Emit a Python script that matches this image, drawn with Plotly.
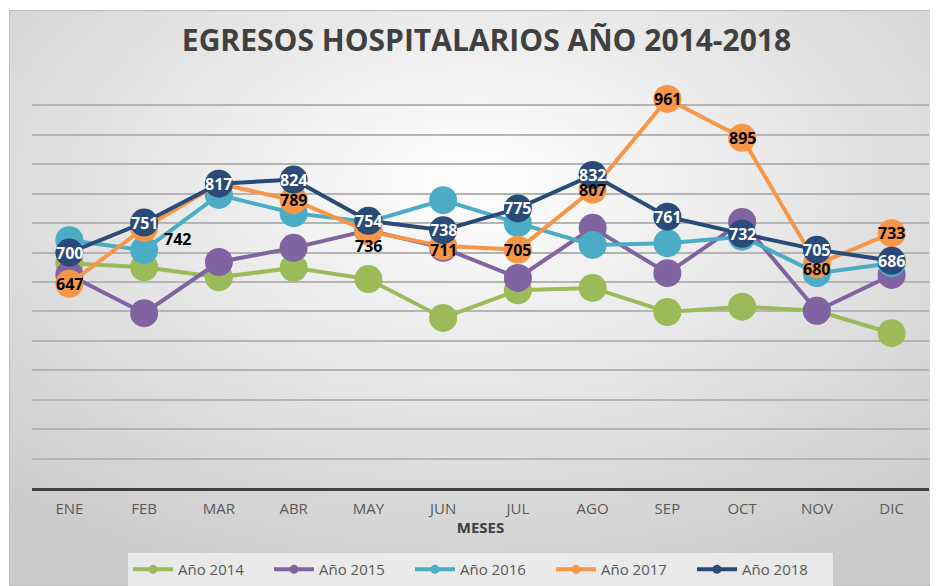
import base64
import plotly.graph_objects as go

meses = ["ENE", "FEB", "MAR", "ABR", "MAY", "JUN", "JUL", "AGO", "SEP", "OCT", "NOV", "DIC"]
y2014 = [682, 675, 658, 674, 655, 589, 636, 640, 599, 608, 601, 563]
y2015 = [662, 597, 684, 708, 738, 708, 657, 742, 665, 752, 601, 662]
y2016 = [721, 704, 798, 767, 752, 789, 750, 713, 716, 727, 665, 682]
y2017 = [647, 742, 817, 789, 736, 711, 705, 807, 961, 895, 680, 733]
y2018 = [700, 751, 817, 824, 754, 738, 775, 832, 761, 732, 705, 686]

names = ["Año 2014", "Año 2015", "Año 2016", "Año 2017", "Año 2018"]
colors = ["#9BBB59", "#8064A2", "#4BACC6", "#F79646", "#2A4A78"]
series = [y2014, y2015, y2016, y2017, y2018]

FONT = "Open Sans"
LBL = dict(family=FONT, size=16, weight="bold")

fig = go.Figure()

# background gradient (chart area)
svg = """<svg xmlns='http://www.w3.org/2000/svg' width='929' height='576' viewBox='0 0 929 576' preserveAspectRatio='none'>
<defs><radialGradient id='g' cx='0.5' cy='0.3' r='0.75'>
<stop offset='0' stop-color='#ffffff'/><stop offset='1' stop-color='#cbcbcb'/></radialGradient></defs>
<rect x='0' y='0' width='929' height='576' fill='url(#g)' stroke='#bdbdbd' stroke-width='2'/></svg>"""
src = "data:image/svg+xml;base64," + base64.b64encode(svg.encode()).decode()

# lines + markers
for nm, col, ys in zip(names, colors, series):
    fig.add_trace(go.Scatter(x=meses, y=ys, name=nm, mode="lines+markers",
                             line=dict(color=col, width=4),
                             marker=dict(size=28, color=col), showlegend=False,
                             cliponaxis=False, hoverinfo="skip"))

# data labels drawn on top of all markers
# 2017 label offsets (xshift, yshift) as placed in the reference
off17 = [(0, 0), (33, -11), None, (0, 0), (0, -15), (0, -4),
         (0, 0), (0, 0), (0, 0), (0, 0), (0, -5), (0, 0)]
for i, v in enumerate(y2017):
    if off17[i] is None:
        continue
    dx, dy = off17[i]
    fig.add_annotation(x=meses[i], y=v, text=str(v), showarrow=False,
                       xshift=dx, yshift=dy, font=dict(color="black", **LBL))
for i, v in enumerate(y2018):
    fig.add_annotation(x=meses[i], y=v, text=str(v), showarrow=False,
                       font=dict(color="white", **LBL))

# legend entries (small markers like the reference)
for nm, col in zip(names, colors):
    fig.add_trace(go.Scatter(x=[None], y=[None], name=nm, mode="lines+markers",
                             line=dict(color=col, width=4), marker=dict(size=9, color=col)))

fig.update_layout(
    width=930, height=578,
    margin=dict(l=24, r=9, t=68, b=98, autoexpand=False),
    paper_bgcolor="white",
    plot_bgcolor="rgba(0,0,0,0)",
    title=dict(text="<b>EGRESOS HOSPITALARIOS AÑO 2014-2018</b>", x=0.5145, xanchor="center",
               y=0.9446, yanchor="middle", font=dict(family=FONT, size=30, color="#404040")),
    images=[dict(source=src, xref="paper", yref="paper", x=-0.0256, y=1.160,
                 sizex=1.036, sizey=1.398, xanchor="left", yanchor="top",
                 sizing="stretch", layer="below")],
    xaxis=dict(type="category", range=[-0.5, 11.5], showgrid=False, showline=True,
               linecolor="#404040", linewidth=2.5, ticks="", ticklabelstandoff=5,
               tickfont=dict(family=FONT, size=15, color="#595959"),
               title=dict(text="<b>MESES</b>", font=dict(family=FONT, size=15, color="#404040"),
                          standoff=6)),
    yaxis=dict(range=[300, 1000], dtick=50, showticklabels=False, showgrid=True,
               gridcolor="#b4b4b4", gridwidth=1.5, zeroline=False, showline=False),
    legend=dict(orientation="h", x=0.5, xanchor="center", y=-0.158, yanchor="top",
                bgcolor="rgba(236,236,236,0.9)", font=dict(family=FONT, size=15, color="#595959"),
                itemwidth=40, entrywidth=86, tracegroupgap=0),
    showlegend=True,
)

fig.write_html("out.html")
